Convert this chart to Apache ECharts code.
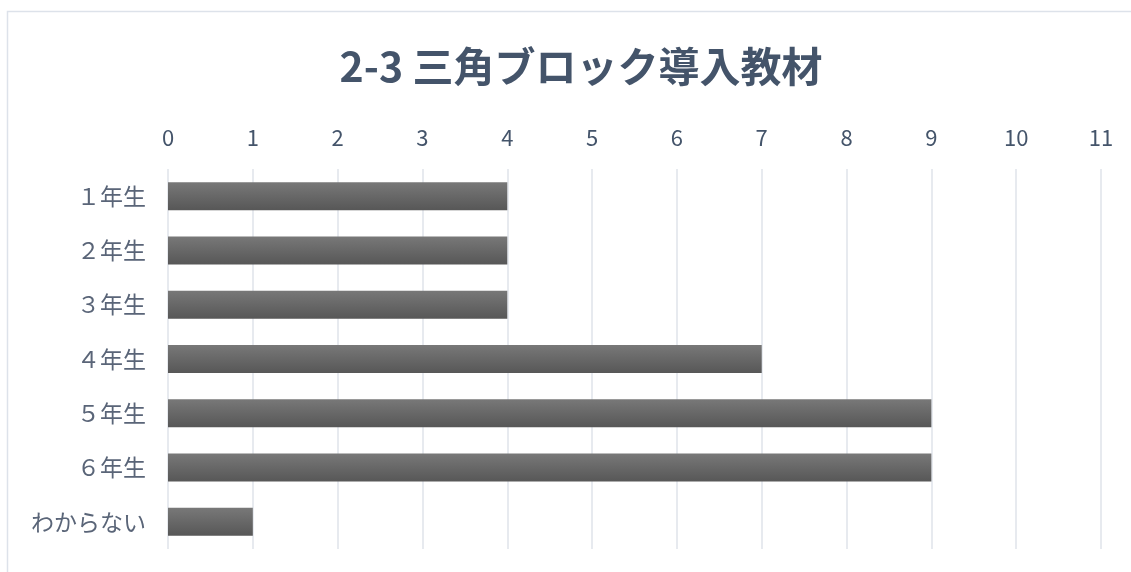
<!DOCTYPE html>
<html><head><meta charset="utf-8">
<script src="https://cdn.jsdelivr.net/npm/echarts@6/dist/echarts.min.js"></script>
<style>html,body{margin:0;padding:0;background:#fff}#c{width:1131px;height:572px}</style>
</head><body><div id="c"></div>
<script>
const titleText = '2-3 三角ブロック導入教材';
const categories = ['１年生','２年生','３年生','４年生','５年生','６年生','わからない'];
const values = [4,4,4,7,9,9,1];
const axisMin = 0, axisMax = 11, axisStep = 1;

const chart = echarts.init(document.getElementById('c'));
chart.setOption({
  animation:false,
  backgroundColor:'#fff',
  graphic:[{type:'rect',shape:{x:7.5,y:11.5,width:1140,height:600},style:{fill:'none',stroke:'#dde2ea',lineWidth:1.5},silent:true}],
  title:{text:titleText,left:576,textAlign:'center',top:41,textStyle:{fontFamily:'Noto Sans CJK JP',fontSize:41,fontWeight:'bold',color:'#44546a'}},
  grid:{left:168,right:30,top:169,bottom:23,containLabel:false},
  xAxis:{type:'value',position:'top',min:axisMin,max:axisMax,interval:axisStep,
    axisLine:{show:false},axisTick:{show:false},
    axisLabel:{margin:20,fontFamily:'Noto Sans CJK JP',fontSize:22,color:'#44546a'},
    splitLine:{show:true,lineStyle:{color:'#dfe3ea',width:1.5}}},
  yAxis:{type:'category',inverse:true,data:categories,
    axisLine:{show:false},axisTick:{show:false},
    axisLabel:{margin:22,fontFamily:'Noto Sans CJK JP',fontSize:23,color:'#5a6578'}},
  series:[{type:'bar',data:values,barWidth:28,
    itemStyle:{color:new echarts.graphic.LinearGradient(0,0,0,1,[{offset:0,color:'#787878'},{offset:1,color:'#575757'}])}}]
});
</script></body></html>
